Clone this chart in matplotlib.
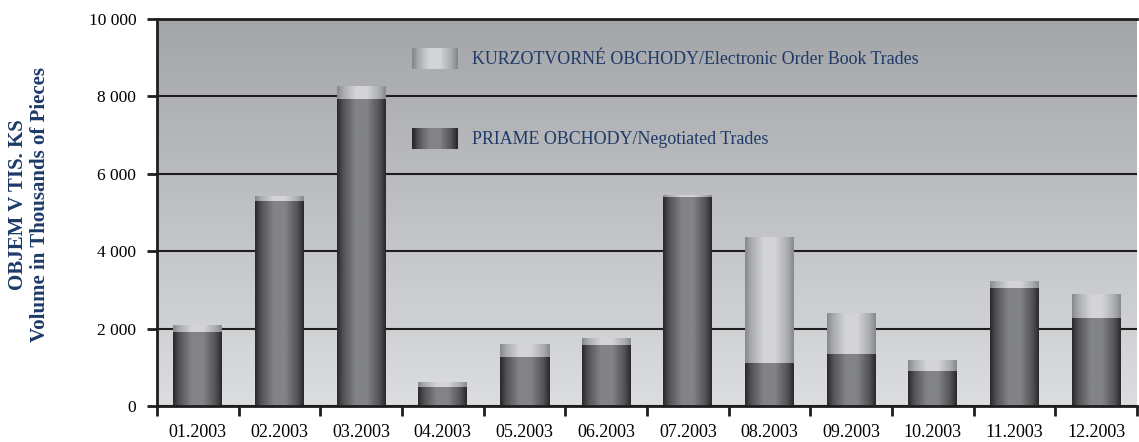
import numpy as np
import matplotlib
matplotlib.use('Agg')
import matplotlib.pyplot as plt
from matplotlib.patches import Rectangle
from matplotlib.legend_handler import HandlerBase
from matplotlib.colors import LinearSegmentedColormap

months = ['01.2003', '02.2003', '03.2003', '04.2003', '05.2003', '06.2003',
          '07.2003', '08.2003', '09.2003', '10.2003', '11.2003', '12.2003']
# priame obchody / negotiated trades (thousands of pieces)
negotiated = np.array([1900, 5300, 7920, 490, 1270, 1580,
                       5400, 1110, 1345, 910, 3060, 2275])
# kurzotvorne obchody / electronic order book trades
order_book = np.array([170, 120, 320, 120, 330, 180,
                       50, 3230, 1035, 280, 170, 620])

yticks = [0, 2000, 4000, 6000, 8000, 10000]
ytick_labels = ['0', '2 000', '4 000', '6 000', '8 000', '10 000']
label_ob = 'KURZOTVORNÉ OBCHODY/Electronic Order Book Trades'
label_neg = 'PRIAME OBCHODY/Negotiated Trades'
ylabel1 = 'OBJEM V TIS. KS'
ylabel2 = 'Volume in Thousands of Pieces'

text_blue = '#1d3a68'
serif = ['Liberation Serif', 'DejaVu Serif']

dark_cmap = LinearSegmentedColormap.from_list('dk', ['#2a2a2c', '#828387'])
light_cmap = LinearSegmentedColormap.from_list('lt', ['#88898c', '#d3d4d6'])


def profile(n=64):
    t = np.linspace(0, 1, n)
    p = np.interp(t, [0, 0.12, 0.38, 0.62, 0.88, 1], [0, 0.45, 1, 1, 0.45, 0])
    return p


class GradientHandler(HandlerBase):
    def __init__(self, cmap):
        super().__init__()
        self.cmap = cmap

    def create_artists(self, legend, orig_handle, xdescent, ydescent,
                       width, height, fontsize, trans):
        n = 24
        p = profile(n)
        arts = []
        for i in range(n):
            r = Rectangle((-xdescent + i * width / n, -ydescent), width / n + 0.3,
                          height, facecolor=self.cmap(p[i]), edgecolor='none',
                          transform=trans)
            arts.append(r)
        return arts


fig = plt.figure(figsize=(11.39, 4.42), dpi=100)
ax = fig.add_axes([157 / 1139, 1 - 406 / 442, 980 / 1139, 387 / 442])

x = np.arange(len(months))
width = 0.6

# background gradient
bg = LinearSegmentedColormap.from_list('bg', ['#dcdddf', '#a3a5a8'])
ax.imshow(np.linspace(0, 1, 256).reshape(-1, 1), cmap=bg, origin='lower',
          extent=[0, 1, 0, 1], transform=ax.transAxes, aspect='auto', zorder=0)

neg_bars = ax.bar(x, negotiated, width, color='none', zorder=2)
ob_bars = ax.bar(x, order_book, width, bottom=negotiated, color='none', zorder=2)

prof = profile(64).reshape(1, -1)
for bars, cmap in ((neg_bars, dark_cmap), (ob_bars, light_cmap)):
    for b in bars:
        x0, y0 = b.get_x(), b.get_y()
        ax.imshow(prof, cmap=cmap, vmin=0, vmax=1, aspect='auto',
                  extent=[x0, x0 + b.get_width(), y0, y0 + b.get_height()],
                  zorder=2, interpolation='bilinear')

ax.set_xlim(-0.5, len(months) - 0.5)
ax.set_ylim(0, 10000)

ax.set_axisbelow(True)
ax.yaxis.grid(True, color='#1e1e1e', linewidth=1.5, zorder=1)
ax.set_yticks(yticks)
ax.set_yticklabels(ytick_labels, family=serif, fontsize=12.5)
ax.set_xticks(x)
ax.set_xticklabels(months, family=serif, fontsize=13)
ax.set_xticks(np.arange(len(months) + 1) - 0.5, minor=True)
ax.tick_params(axis='x', which='major', length=0, pad=13)
ax.tick_params(axis='x', which='minor', length=7, width=2, color='#1e1e1e')
ax.tick_params(axis='y', length=7, width=2, color='#1e1e1e', pad=8)

for side in ('left', 'bottom', 'top'):
    ax.spines[side].set_linewidth(2)
    ax.spines[side].set_color('#1e1e1e')
ax.spines['right'].set_visible(False)

h_ob = Rectangle((0, 0), 1, 1)
h_neg = Rectangle((0, 0), 1, 1)
leg = ax.legend([h_ob, h_neg], [label_ob, label_neg],
                handler_map={h_ob: GradientHandler(light_cmap),
                             h_neg: GradientHandler(dark_cmap)},
                loc='upper left', bbox_to_anchor=(412 / 1139, 1 - 48 / 442),
                bbox_transform=fig.transFigure, frameon=False,
                prop={'family': serif, 'size': 12.9},
                handlelength=2.55, handleheight=1.4, labelspacing=3.3,
                handletextpad=0.8, borderpad=0, borderaxespad=0)
for t in leg.get_texts():
    t.set_color(text_blue)

fig.text(18 / 1139, 1 - 205 / 442, ylabel1, rotation=90, ha='center', va='center',
         family=serif, fontweight='bold', fontsize=15, color=text_blue)
fig.text(40 / 1139, 1 - 205 / 442, ylabel2, rotation=90, ha='center', va='center',
         family=serif, fontweight='bold', fontsize=15, color=text_blue)

fig.savefig('out.png', dpi=100)
